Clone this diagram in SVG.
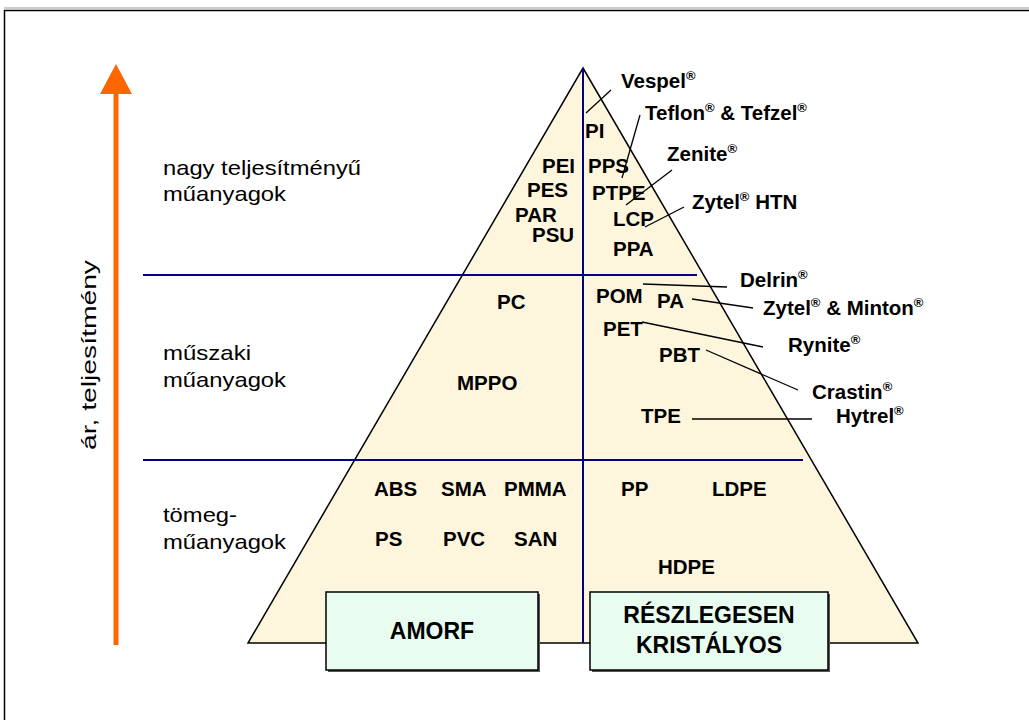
<svg xmlns="http://www.w3.org/2000/svg" width="1029" height="720" viewBox="0 0 1029 720">
<defs>
<style>
.b{font-family:"Liberation Sans",Arial,sans-serif;font-weight:bold;font-size:20.5px;fill:#000}
.bx{font-family:"Liberation Sans",Arial,sans-serif;font-weight:bold;font-size:23px;fill:#000}
.n{font-family:"Liberation Sans",Arial,sans-serif;font-size:21px;fill:#000}
.sup{font-size:13px}
.nav{stroke:#000080;stroke-width:2;fill:none}
.cl{stroke:#000;stroke-width:1.3;fill:none}
.box{fill:#E8FDF0;stroke:#000;stroke-width:1.5}
</style>
</defs>
<rect x="0" y="0" width="1029" height="720" fill="#fff"/>
<line x1="4" y1="8" x2="1029" y2="8" stroke="#999" stroke-width="1"/>
<rect x="4.5" y="10.5" width="1030" height="720" fill="none" stroke="#000" stroke-width="1.5"/>

<g id="axis">
<line x1="116" y1="645" x2="116" y2="90" stroke="#FF6600" stroke-width="5"/>
<polygon points="100,94 132,94 116,64" fill="#FF6600"/>
<text class="n" transform="translate(96,355) rotate(-90)" text-anchor="middle" textLength="190" lengthAdjust="spacingAndGlyphs">ár, teljesítmény</text>
</g>

<g id="pyramid">
<polygon points="583,68 918,643 248,643" fill="#FDF5DC" stroke="#000" stroke-width="1.5"/>
<line class="nav" x1="583" y1="68" x2="583" y2="643"/>
<line class="nav" x1="143" y1="275" x2="697" y2="275"/>
<line class="nav" x1="143" y1="460" x2="803" y2="460"/>
</g>

<g id="level-labels">
<text class="n" x="163" y="175" textLength="198" lengthAdjust="spacingAndGlyphs">nagy teljesítményű</text>
<text class="n" x="163" y="201" textLength="123" lengthAdjust="spacingAndGlyphs">műanyagok</text>
<text class="n" x="163" y="360" textLength="88" lengthAdjust="spacingAndGlyphs">műszaki</text>
<text class="n" x="163" y="387" textLength="123" lengthAdjust="spacingAndGlyphs">műanyagok</text>
<text class="n" x="163" y="522" textLength="74" lengthAdjust="spacingAndGlyphs">tömeg-</text>
<text class="n" x="163" y="549" textLength="123" lengthAdjust="spacingAndGlyphs">műanyagok</text>
</g>

<g id="connectors">
<line class="cl" x1="586" y1="113" x2="611" y2="90"/>
<line class="cl" x1="640" y1="115" x2="622" y2="178"/>
<line class="cl" x1="672" y1="170" x2="626" y2="205"/>
<line class="cl" x1="684" y1="207" x2="645" y2="227"/>
<line class="cl" x1="643" y1="284" x2="727" y2="287"/>
<line class="cl" x1="692" y1="299" x2="753" y2="308"/>
<line class="cl" x1="642" y1="322" x2="763" y2="347"/>
<line class="cl" x1="706" y1="350" x2="798" y2="390"/>
<line class="cl" x1="692" y1="419" x2="812" y2="419"/>
</g>

<g id="high-performance">
<text class="b" x="585" y="138">PI</text>
<text class="b" x="542" y="173">PEI</text>
<text class="b" x="588" y="173">PPS</text>
<text class="b" x="527" y="197">PES</text>
<text class="b" x="592" y="200">PTPE</text>
<text class="b" x="515" y="222">PAR</text>
<text class="b" x="613" y="226">LCP</text>
<text class="b" x="532" y="242">PSU</text>
<text class="b" x="613" y="256">PPA</text>
</g>

<g id="engineering">
<text class="b" x="497" y="309">PC</text>
<text class="b" x="596" y="303">POM</text>
<text class="b" x="657" y="308">PA</text>
<text class="b" x="603" y="336">PET</text>
<text class="b" x="659" y="362">PBT</text>
<text class="b" x="457" y="390">MPPO</text>
<text class="b" x="641" y="423">TPE</text>
</g>

<g id="commodity">
<text class="b" x="374" y="496">ABS</text>
<text class="b" x="441" y="496">SMA</text>
<text class="b" x="504" y="496">PMMA</text>
<text class="b" x="621" y="496">PP</text>
<text class="b" x="712" y="496">LDPE</text>
<text class="b" x="375" y="546">PS</text>
<text class="b" x="443" y="546">PVC</text>
<text class="b" x="514" y="546">SAN</text>
<text class="b" x="658" y="574">HDPE</text>
</g>

<g id="brands">
<text class="b" x="621" y="88">Vespel<tspan class="sup" dy="-8">®</tspan></text>
<text class="b" x="645" y="120">Teflon<tspan class="sup" dy="-8">®</tspan><tspan dy="8"> &amp; Tefzel</tspan><tspan class="sup" dy="-8">®</tspan></text>
<text class="b" x="667" y="161">Zenite<tspan class="sup" dy="-8">®</tspan></text>
<text class="b" x="692" y="209">Zytel<tspan class="sup" dy="-8">®</tspan><tspan dy="8"> HTN</tspan></text>
<text class="b" x="740" y="287">Delrin<tspan class="sup" dy="-8">®</tspan></text>
<text class="b" x="763" y="315">Zytel<tspan class="sup" dy="-8">®</tspan><tspan dy="8"> &amp; Minton</tspan><tspan class="sup" dy="-8">®</tspan></text>
<text class="b" x="788" y="352">Rynite<tspan class="sup" dy="-8">®</tspan></text>
<text class="b" x="812" y="399">Crastin<tspan class="sup" dy="-8">®</tspan></text>
<text class="b" x="836" y="423">Hytrel<tspan class="sup" dy="-8">®</tspan></text>
</g>

<g id="amorf">
<rect x="328" y="594" width="212" height="78" fill="#555"/>
<rect class="box" x="326" y="592" width="212" height="78"/>
<text class="bx" x="432" y="639" text-anchor="middle">AMORF</text>
</g>
<g id="reszlegesen">
<rect x="592" y="594" width="238" height="78" fill="#555"/>
<rect class="box" x="590" y="592" width="238" height="78"/>
<text class="bx" x="709" y="623" text-anchor="middle">RÉSZLEGESEN</text>
<text class="bx" x="709" y="653" text-anchor="middle">KRISTÁLYOS</text>
</g>
</svg>
